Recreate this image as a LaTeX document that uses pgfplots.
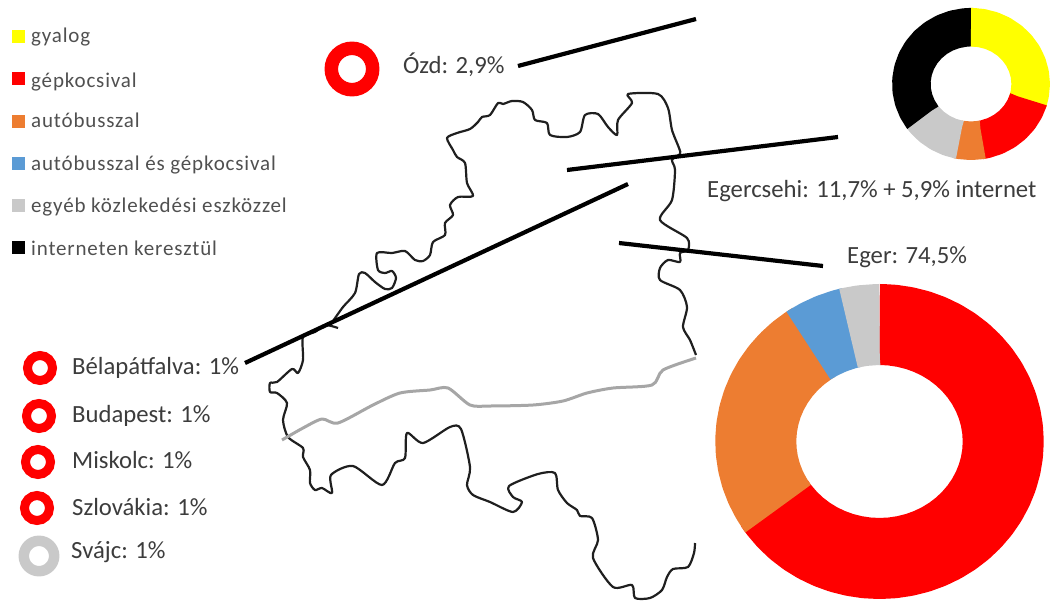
\documentclass[border=0pt]{standalone}
\usepackage{pgfplots}
\pgfplotsset{compat=1.18}
\usepackage{fontspec}
\setmainfont{Carlito}
\newfontfamily\legfont[LetterSpace=4]{Carlito}
\definecolor{cyel}{HTML}{FFFF00}
\definecolor{cred}{HTML}{FF0000}
\definecolor{cora}{HTML}{ED7D31}
\definecolor{cblu}{HTML}{5B9BD5}
\definecolor{cgry}{HTML}{C9C9C9}
\definecolor{ctxt}{HTML}{3C3C3C}
\definecolor{cleg}{HTML}{505050}
\pgfplotsset{
  donut/.style={scale only axis, hide axis, clip=false, anchor=center,
    xmin=-1, xmax=1, ymin=-1, ymax=1},
  seg/.style={no markers, data cs=polar, line cap=butt, line join=round},
  maptrace/.style={no markers, smooth, tension=0.45, line join=round},
}
\begin{document}
\begin{tikzpicture}
\path[use as bounding box] (0,0) rectangle (1054pt,602pt);
\begin{axis}[at={(0pt,0pt)}, anchor=south west, scale only axis, width=1054pt, height=602pt,
  xmin=0, xmax=1054, ymin=0, ymax=602, y dir=reverse, hide axis, clip=false]
% map, upper outline
\addplot[maptrace, black!88, line width=2.2pt] coordinates {
(333,321)(343,307)(355,293)(359,274)(365,273)(375,282)(385,289)(392,288)(396,278)(392,271)(385,273)(378,270)
(377,253)(392,253)(405,251)(415,260)(423,261)(430,255)(433,242)(445,235)(445,223)(453,215)(450,205)(458,197)
(473,196)(467,183)(465,163)(457,157)(453,150)(447,138)(457,133)(470,129)(478,122)(482,117)(490,115)(498,103)
(503,104)(512,101)(523,102)(532,110)(535,120)(547,123)(550,135)(567,137)(580,132)(585,115)(598,114)(608,127)
(617,135)(618,120)(632,103)(628,94)(658,94)(668,108)(672,130)(679,148)(680,154)(672,160)(675,170)(672,200)
(660,220)(687,238)(688,250)(680,253)(680,262)(668,260)(660,268)(660,280)(680,290)(687,307)(683,327)(690,340)(696,355)};
% map, lower outline
\addplot[maptrace, black!88, line width=2.2pt] coordinates {
(338,328)(325,325)(315,332)(303,337)(303,360)(298,373)(292,369)(277,382)(270,383)(270,392)(277,393)(287,403)
(283,420)(288,437)(303,448)(303,457)(310,470)(310,483)(315,490)(322,488)(332,493)(331,475)(353,466)(382,485)
(395,463)(405,458)(407,433)(423,443)(450,427)(461,429)(470,467)(467,485)(473,495)(490,502)(513,512)(522,502)
(513,497)(509,486)(538,474)(555,473)(558,490)(567,503)(577,510)(580,516)(592,518)(598,540)(593,558)(613,587)
(632,585)(635,598)(650,598)(662,590)(667,577)(673,569)(688,567)(694,553)(695,543)};
% grey river line
\addplot[maptrace, black!35, line width=3pt] coordinates {
(282,440)(303,428)(322,419)(338,423)(373,405)(400,393)(430,390)(448,388)(470,405)(490,406)(533,405)(563,401)
(587,393)(613,388)(652,385)(663,370)(696,358)};
% pointer lines
\addplot[no markers, black, line width=4.2pt] coordinates {(518,66)(696,19)};
\addplot[no markers, black, line width=4.2pt] coordinates {(567,170)(838,137)};
\addplot[no markers, black, line width=4.2pt] coordinates {(628,184)(245,363)};
\addplot[no markers, black, line width=4.2pt] coordinates {(619,243)(823,266)};
% legend squares
\addplot[only marks, cyel, mark=square*, mark size=6.2pt, mark options={draw=cyel, fill=cyel}] coordinates {(18,36)};
\addplot[only marks, cred, mark=square*, mark size=6.2pt, mark options={draw=cred, fill=cred}] coordinates {(18,78)};
\addplot[only marks, cora, mark=square*, mark size=6.2pt, mark options={draw=cora, fill=cora}] coordinates {(18,121)};
\addplot[only marks, cblu, mark=square*, mark size=6.2pt, mark options={draw=cblu, fill=cblu}] coordinates {(18,163)};
\addplot[only marks, cgry, mark=square*, mark size=6.2pt, mark options={draw=cgry, fill=cgry}] coordinates {(18,205)};
\addplot[only marks, black, mark=square*, mark size=6.2pt, mark options={draw=black, fill=black}] coordinates {(18,247)};
% rings
\addplot[only marks, mark=*, mark size=20.7pt, mark options={draw=cred, fill=white, line width=13.5pt}] coordinates {(352,69)};
\addplot[only marks, mark=*, mark size=12.5pt, mark options={draw=cred, fill=white, line width=9pt}] coordinates {(40,368)(39,416)(38,462)(37,508)};
\addplot[only marks, mark=*, mark size=15.2pt, mark options={draw=cgry, fill=white, line width=10.5pt}] coordinates {(39,556)};
% labels
\node[anchor=base west, inner sep=0pt, text=cleg, font=\legfont\fontsize{21}{24}\selectfont] at (axis cs:31,43) {gyalog};
\node[anchor=base west, inner sep=0pt, text=cleg, font=\legfont\fontsize{21}{24}\selectfont] at (axis cs:31,87) {gépkocsival};
\node[anchor=base west, inner sep=0pt, text=cleg, font=\legfont\fontsize{21}{24}\selectfont] at (axis cs:31,127) {autóbusszal};
\node[anchor=base west, inner sep=0pt, text=cleg, font=\legfont\fontsize{21}{24}\selectfont] at (axis cs:31,170) {autóbusszal és gépkocsival};
\node[anchor=base west, inner sep=0pt, text=cleg, font=\legfont\fontsize{21}{24}\selectfont] at (axis cs:31,212) {egyéb közlekedési eszközzel};
\node[anchor=base west, inner sep=0pt, text=cleg, font=\legfont\fontsize{21}{24}\selectfont] at (axis cs:31,255) {interneten keresztül};
\node[anchor=base west, inner sep=0pt, text=ctxt, font=\fontsize{24.7}{28}\selectfont] at (axis cs:403,74) {Ózd: 2,9\%};
\node[anchor=base west, inner sep=0pt, text=ctxt, font=\fontsize{24.7}{28}\selectfont] at (axis cs:707,197) {Egercsehi: 11,7\% + 5,9\% internet};
\node[anchor=base west, inner sep=0pt, text=ctxt, font=\fontsize{24.7}{28}\selectfont] at (axis cs:847,263) {Eger: 74,5\%};
\node[anchor=base west, inner sep=0pt, text=ctxt, font=\fontsize{24.7}{28}\selectfont] at (axis cs:72,374) {Bélapátfalva: 1\%};
\node[anchor=base west, inner sep=0pt, text=ctxt, font=\fontsize{24.7}{28}\selectfont] at (axis cs:72,422) {Budapest: 1\%};
\node[anchor=base west, inner sep=0pt, text=ctxt, font=\fontsize{24.7}{28}\selectfont] at (axis cs:72,468) {Miskolc: 1\%};
\node[anchor=base west, inner sep=0pt, text=ctxt, font=\fontsize{24.7}{28}\selectfont] at (axis cs:72,515) {Szlovákia: 1\%};
\node[anchor=base west, inner sep=0pt, text=ctxt, font=\fontsize{24.7}{28}\selectfont] at (axis cs:71,558) {Svájc: 1\%};
\end{axis}
% Egercsehi donut (polar: angle, mid radius)
\begin{axis}[donut, at={(971pt,518pt)}, width=119.4pt, height=113.6pt]
\addplot[seg, cyel, line width=38.5pt] coordinates {(90,1)(89,1)(80,1)(70,1)(60,1)(50,1)(40,1)(30,1)(20,1)(10,1)(0,1)(-10,1)(-17,1)(-18,1)};
\addplot[seg, cred, line width=38.5pt] coordinates {(-16,1)(-17,1)(-26,1)(-36,1)(-46,1)(-56,1)(-66,1)(-76,1)(-80,1)(-81,1)};
\addplot[seg, cora, line width=38.5pt] coordinates {(-79,1)(-80,1)(-90,1)(-100,1)(-102,1)(-103,1)};
\addplot[seg, cgry, line width=38.5pt] coordinates {(-101,1)(-102,1)(-111,1)(-121,1)(-131,1)(-141,1)(-145,1)(-146,1)};
\addplot[seg, black, line width=38.5pt] coordinates {(-144,1)(-145,1)(-154,1)(-164,1)(-174,1)(-184,1)(-194,1)(-204,1)(-214,1)(-224,1)(-234,1)(-244,1)(-254,1)(-264,1)(-269,1)(-270,1)};
\addplot[seg, cyel, line width=38.5pt] coordinates {(90,1)(89,1)(85,1)};
\end{axis}
% Eger donut
\begin{axis}[donut, at={(879.5pt,160.5pt)}, width=247.5pt, height=234pt]
\addplot[seg, cred, line width=81pt] coordinates {(90,1)(89,1)(84,1)(78,1)(72,1)(66,1)(60,1)(54,1)(48,1)(42,1)(36,1)(30,1)(24,1)(18,1)(12,1)(6,1)(0,1)(-6,1)(-12,1)(-18,1)(-24,1)(-30,1)(-36,1)(-42,1)(-48,1)(-54,1)(-60,1)(-66,1)(-72,1)(-78,1)(-84,1)(-90,1)(-96,1)(-102,1)(-108,1)(-114,1)(-120,1)(-126,1)(-132,1)(-138,1)(-144,1)(-146,1)(-148,1)};
\addplot[seg, cora, line width=81pt] coordinates {(-145,1)(-146,1)(-151,1)(-157,1)(-163,1)(-169,1)(-175,1)(-181,1)(-187,1)(-193,1)(-199,1)(-205,1)(-211,1)(-217,1)(-223,1)(-229,1)(-235,1)(-236,1)(-238,1)};
\addplot[seg, cblu, line width=81pt] coordinates {(-235,1)(-236,1)(-241,1)(-247,1)(-253,1)(-255.5,1)(-257,1)};
\addplot[seg, cgry, line width=81pt] coordinates {(-255.5,1)(-256.5,1)(-262,1)(-269,1)(-270,1)};
\end{axis}
\end{tikzpicture}
\end{document}
